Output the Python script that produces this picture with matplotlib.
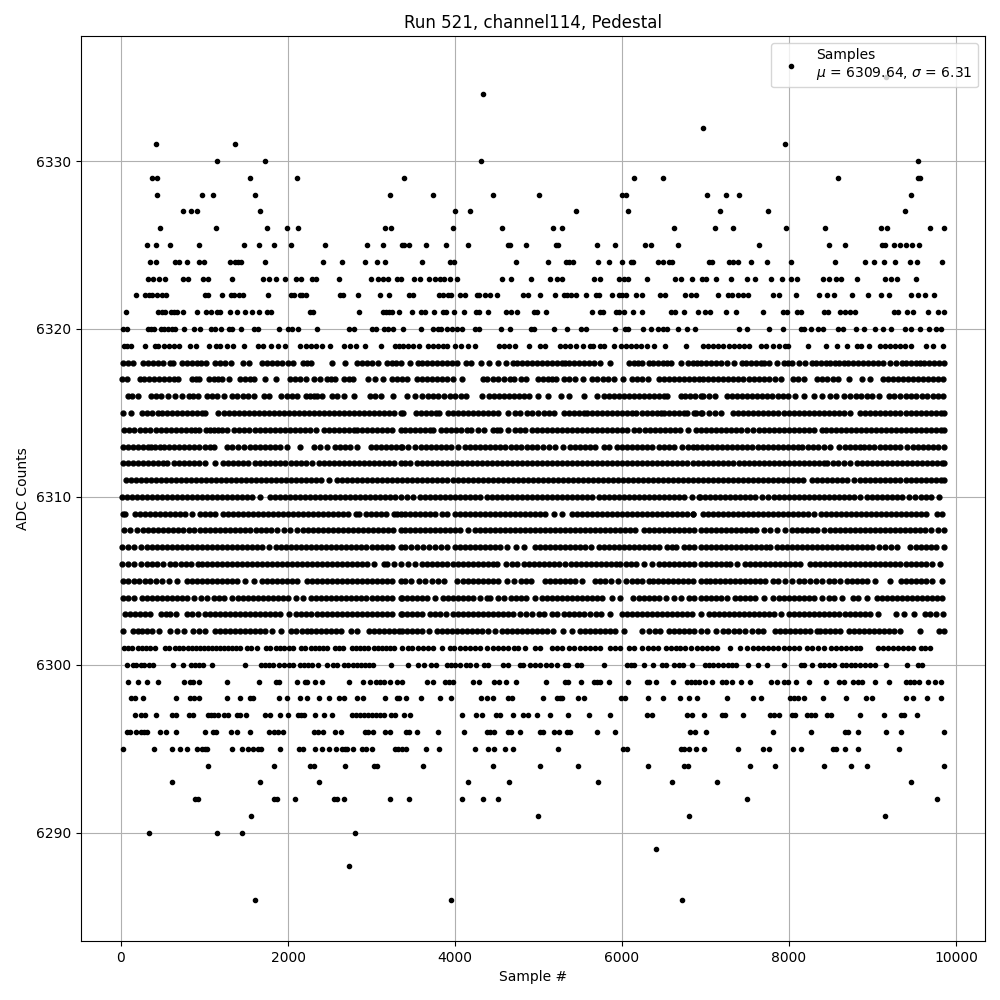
import matplotlib
matplotlib.use("Agg")
import matplotlib.pyplot as plt

# sample numbers, one list per ADC level
s6335 = [9158]
s6334 = [4341]
s6332 = [6974]
s6331 = [414, 1362, 7946]
s6330 = [1146, 1722, 4317, 9542]
s6329 = [374, 426, 1542, 2106, 3393, 6141, 6489, 8582, 9542, 9566]
s6328 = [426, 966, 1098, 1602, 3222, 3741, 4449, 5001, 5997, 6045, 7022, 7250, 7406, 9458]
s6327 = [738, 834, 906, 1662, 4005, 4185, 5445, 6069, 7178, 7754, 9386]
s6326 = [462, 1134, 1746, 1986, 2118, 3162, 3234, 3981, 4557, 5169, 5277, 6621, 7118, 7334, 7958, 8426, 9098, 9170, 9686, 9855]
s6325 = [306, 414, 582, 930, 1470, 1650, 1830, 2034, 2442, 2946, 3138, 3361, 3393, 3453, 3657, 3897, 4161, 4629, 4653, 4845, 5205, 5229, 5697, 5913, 6273, 6345, 6669, 7646, 8474, 8666, 9110, 9146, 9254, 9326, 9398, 9470, 9554]
s6324 = [342, 414, 642, 690, 786, 930, 990, 1302, 1362, 1398, 1434, 1722, 2418, 2646, 2922, 3066, 3162, 3609, 3945, 3993, 4725, 5109, 5325, 5361, 5409, 5709, 5841, 5997, 6105, 6129, 6429, 6489, 6561, 6597, 7046, 7082, 7286, 7334, 7394, 7550, 7742, 8018, 8546, 8906, 9014, 9134, 9266, 9446, 9530, 9830]
s6323 = [318, 378, 450, 522, 738, 798, 978, 1038, 1326, 1698, 1770, 1854, 1970, 2094, 2154, 2286, 2334, 2610, 2994, 3078, 3138, 3198, 3306, 3357, 3513, 3585, 3693, 3765, 3825, 3873, 3945, 4029, 4557, 4665, 4905, 5133, 5217, 5277, 5661, 5733, 5961, 6021, 6069, 6297, 6633, 6705, 6842, 6962, 7010, 7130, 7310, 7502, 7598, 7790, 7910, 8018, 8090, 8402, 8474, 8558, 8618, 8810, 9146, 9218, 9290, 9518]
s6322 = [174, 282, 330, 366, 426, 486, 534, 1002, 1038, 1206, 1314, 1350, 1410, 1458, 1758, 2034, 2070, 2142, 2166, 2214, 2622, 2658, 2838, 3102, 3210, 3453, 3501, 3813, 3861, 3921, 3957, 4065, 4125, 4269, 4293, 4365, 4425, 4497, 4809, 4869, 5013, 5193, 5301, 5337, 5385, 5445, 5565, 5685, 5721, 5877, 5961, 5997, 6045, 6165, 6237, 6453, 6513, 6753, 6830, 6890, 7154, 7274, 7322, 7394, 7454, 7514, 7814, 7886, 8078, 8354, 8450, 8534, 8750, 8942, 9098, 9194, 9458, 9542, 9626, 9734]
s6321 = [54, 438, 486, 522, 594, 630, 666, 738, 906, 1014, 1074, 1146, 1182, 1302, 1386, 1482, 1566, 1650, 1746, 1794, 2262, 2298, 2850, 3138, 3174, 3210, 3246, 3330, 3489, 3597, 3645, 3753, 3861, 3897, 3993, 4113, 4257, 4293, 4401, 4605, 4665, 4737, 4941, 4977, 5085, 5637, 5733, 5769, 5925, 5961, 6021, 6129, 6237, 6585, 6633, 6741, 6914, 6998, 7058, 7250, 7370, 7694, 7922, 7970, 8090, 8138, 8414, 8462, 8606, 8666, 8726, 8786, 9254, 9302, 9410, 9482, 9662, 9782, 9855]
s6320 = [18, 66, 318, 354, 390, 474, 510, 558, 606, 642, 750, 870, 942, 1074, 1122, 1194, 1290, 1326, 1434, 1590, 1638, 1890, 1998, 2046, 2118, 2346, 2730, 2790, 3006, 3054, 3150, 3198, 3258, 3381, 3597, 3741, 3801, 3837, 3909, 3969, 4029, 4089, 4245, 4293, 4545, 4653, 4905, 4941, 5181, 5337, 5505, 5565, 5913, 6033, 6069, 6249, 6345, 6429, 6489, 6537, 6669, 6777, 6878, 7406, 7502, 7766, 7922, 8138, 8174, 8258, 8342, 8402, 8582, 8642, 8798, 8894, 9026, 9122, 9218, 9386, 9458, 9566, 9674, 9758, 9818]
s6319 = [30, 70, 118, 286, 402, 438, 510, 570, 630, 690, 822, 894, 1050, 1134, 1182, 1266, 1338, 1470, 1638, 1698, 1794, 1878, 1962, 2142, 2214, 2274, 2334, 2406, 2502, 2670, 2742, 2814, 2922, 3114, 3282, 3330, 3381, 3441, 3501, 3573, 3681, 3741, 3801, 3861, 3909, 4005, 4077, 4161, 4245, 4521, 4581, 4641, 4713, 4881, 5013, 5073, 5253, 5313, 5373, 5445, 5529, 5613, 5649, 5733, 5781, 5901, 5985, 6045, 6105, 6165, 6225, 6297, 6381, 6513, 6765, 6974, 7034, 7094, 7154, 7214, 7286, 7346, 7406, 7466, 7526, 7670, 7730, 7814, 7886, 7946, 7982, 8222, 8438, 8570, 8690, 8810, 8858, 8954, 9086, 9146, 9206, 9266, 9326, 9386, 9458, 9638, 9722, 9842]
s6318 = [22, 80, 138, 262, 320, 380, 440, 498, 582, 618, 734, 790, 850, 905, 960, 1018, 1122, 1180, 1240, 1318, 1462, 1538, 1694, 1750, 1810, 1870, 1930, 1995, 2058, 2174, 2230, 2278, 2526, 2682, 2830, 2890, 2950, 3010, 3078, 3182, 3240, 3295, 3350, 3461, 3553, 3610, 3670, 3730, 3790, 3850, 3905, 3965, 4021, 4129, 4189, 4317, 4409, 4509, 4609, 4689, 4745, 4800, 4860, 4920, 4980, 5040, 5100, 5160, 5220, 5280, 5321, 5361, 5421, 5480, 5540, 5600, 5669, 5733, 5853, 6081, 6140, 6190, 6241, 6321, 6375, 6430, 6485, 6540, 6589, 6705, 6789, 6845, 6900, 6941, 7000, 7060, 7120, 7180, 7262, 7338, 7434, 7490, 7550, 7610, 7660, 7706, 7766, 7862, 7934, 7985, 8034, 8114, 8186, 8270, 8325, 8385, 8440, 8495, 8550, 8594, 8654, 8710, 8770, 8830, 8890, 8950, 9010, 9070, 9130, 9214, 9278, 9350, 9405, 9460, 9520, 9570, 9614, 9680, 9740, 9800, 9854]
s6317 = [14, 70, 222, 280, 335, 395, 450, 510, 570, 630, 686, 854, 900, 938, 1054, 1110, 1165, 1210, 1290, 1430, 1490, 1545, 1590, 1730, 1854, 2022, 2080, 2145, 2218, 2310, 2378, 2462, 2515, 2566, 2670, 2725, 2778, 2962, 3038, 3142, 3250, 3310, 3361, 3421, 3549, 3605, 3660, 3720, 3780, 3840, 3900, 3981, 4081, 4341, 4389, 4450, 4520, 4581, 4661, 4709, 4789, 4853, 4989, 5050, 5110, 5161, 5213, 5301, 5370, 5441, 5537, 5641, 5700, 5770, 5829, 5901, 6009, 6121, 6180, 6241, 6309, 6441, 6500, 6560, 6620, 6680, 6740, 6800, 6860, 6920, 6974, 7034, 7090, 7150, 7205, 7265, 7325, 7385, 7454, 7526, 7585, 7645, 7705, 7765, 7830, 7902, 8046, 8110, 8182, 8334, 8395, 8460, 8525, 8582, 8714, 8870, 8974, 9122, 9180, 9240, 9300, 9360, 9420, 9480, 9540, 9600, 9660, 9720, 9780, 9840]
s6316 = [78, 135, 198, 358, 415, 480, 562, 650, 730, 810, 865, 922, 1030, 1090, 1150, 1238, 1330, 1395, 1460, 1525, 1590, 1710, 1770, 1918, 1985, 2050, 2106, 2210, 2265, 2310, 2350, 2410, 2530, 2590, 2670, 2790, 2982, 3045, 3110, 3262, 3429, 3525, 3609, 3681, 3740, 3801, 3873, 3935, 4000, 4073, 4137, 4329, 4413, 4470, 4530, 4590, 4650, 4710, 4770, 4830, 4890, 4989, 5113, 5265, 5361, 5541, 5697, 5781, 5840, 5900, 5960, 6020, 6080, 6140, 6200, 6260, 6320, 6380, 6440, 6500, 6541, 6701, 6760, 6820, 6880, 6941, 6974, 7046, 7114, 7254, 7315, 7375, 7435, 7494, 7554, 7615, 7675, 7735, 7794, 7874, 7930, 7985, 8074, 8174, 8302, 8398, 8494, 8560, 8654, 8734, 8800, 8865, 8930, 8994, 9074, 9194, 9262, 9334, 9395, 9455, 9520, 9590, 9654, 9726, 9785, 9842]
s6315 = [18, 122, 250, 310, 370, 438, 495, 555, 615, 675, 735, 795, 855, 910, 970, 1010, 1158, 1230, 1290, 1350, 1410, 1470, 1530, 1590, 1650, 1710, 1770, 1830, 1890, 1950, 2010, 2070, 2130, 2190, 2250, 2310, 2370, 2430, 2490, 2550, 2610, 2670, 2730, 2790, 2850, 2910, 2970, 3030, 3090, 3150, 3210, 3270, 3350, 3373, 3533, 3590, 3650, 3710, 3770, 3813, 3921, 3980, 4040, 4100, 4160, 4220, 4280, 4340, 4400, 4460, 4513, 4629, 4721, 4780, 4860, 4921, 4989, 5061, 5125, 5189, 5301, 5360, 5420, 5480, 5541, 5581, 5640, 5700, 5760, 5820, 5880, 5940, 6000, 6060, 6120, 6173, 6241, 6300, 6360, 6420, 6461, 6501, 6560, 6620, 6680, 6740, 6781, 6881, 6941, 7046, 7114, 7190, 7326, 7385, 7445, 7505, 7565, 7625, 7685, 7745, 7814, 7874, 7935, 7995, 8055, 8115, 8175, 8235, 8295, 8355, 8415, 8475, 8535, 8595, 8655, 8726, 8846, 8910, 8974, 9034, 9095, 9155, 9215, 9275, 9335, 9395, 9455, 9515, 9575, 9635, 9695, 9755, 9815, 9855, 6862, 6954]
s6314 = [30, 90, 150, 222, 285, 350, 422, 480, 540, 600, 660, 720, 780, 840, 890, 930, 1014, 1060, 1110, 1158, 1215, 1270, 1350, 1410, 1470, 1530, 1602, 1660, 1720, 1780, 1840, 1900, 1960, 2020, 2080, 2140, 2200, 2260, 2330, 2430, 2490, 2550, 2610, 2670, 2730, 2790, 2830, 2890, 2950, 3010, 3070, 3130, 3190, 3250, 3350, 3400, 3460, 3520, 3580, 3640, 3700, 3741, 3837, 3895, 3955, 4015, 4075, 4141, 4189, 4270, 4353, 4449, 4500, 4541, 4629, 4721, 4780, 4841, 4921, 4980, 5040, 5100, 5160, 5220, 5280, 5340, 5400, 5460, 5520, 5580, 5640, 5700, 5760, 5820, 5880, 5940, 6000, 6060, 6141, 6201, 6281, 6340, 6400, 6460, 6520, 6580, 6640, 6700, 6789, 6881, 6941, 7000, 7060, 7120, 7180, 7240, 7300, 7360, 7420, 7494, 7574, 7635, 7695, 7755, 7815, 7875, 7935, 7995, 8055, 8115, 8175, 8235, 8295, 8394, 8446, 8505, 8565, 8625, 8685, 8745, 8805, 8865, 8925, 8985, 9045, 9105, 9165, 9225, 9285, 9345, 9405, 9465, 9525, 9585, 9645, 9705, 9765, 9825, 9854]
s6313 = [22, 80, 140, 200, 260, 320, 365, 410, 462, 520, 580, 640, 700, 760, 820, 880, 940, 1000, 1060, 1110, 1270, 1330, 1400, 1470, 1542, 1600, 1660, 1720, 1780, 1840, 1900, 1990, 2138, 2310, 2382, 2462, 2558, 2620, 2680, 2740, 2830, 2990, 3050, 3110, 3170, 3230, 3290, 3350, 3361, 3440, 3521, 3589, 3650, 3710, 3770, 3830, 3890, 3950, 4041, 4121, 4180, 4240, 4300, 4360, 4420, 4480, 4540, 4601, 4673, 4735, 4795, 4860, 4921, 4981, 5050, 5121, 5201, 5290, 5381, 5441, 5500, 5560, 5620, 5680, 5781, 5841, 5941, 6000, 6060, 6120, 6180, 6240, 6301, 6361, 6441, 6500, 6560, 6620, 6721, 6789, 6845, 6901, 6954, 7015, 7075, 7135, 7195, 7255, 7315, 7375, 7435, 7495, 7554, 7626, 7685, 7745, 7805, 7865, 7925, 7985, 8045, 8105, 8154, 8222, 8285, 8350, 8414, 8494, 8594, 8666, 8730, 8790, 8854, 8894, 8955, 9014, 9094, 9155, 9215, 9275, 9335, 9414, 9486, 9545, 9605, 9665, 9725, 9785, 9854]
s6312 = [22, 80, 140, 200, 260, 320, 380, 440, 500, 550, 630, 690, 750, 810, 870, 930, 1010, 1130, 1222, 1280, 1340, 1400, 1460, 1520, 1610, 1670, 1730, 1790, 1850, 1910, 1970, 2030, 2090, 2150, 2210, 2290, 2370, 2430, 2490, 2550, 2610, 2670, 2730, 2790, 2850, 2910, 2970, 3030, 3090, 3150, 3210, 3270, 3350, 3400, 3461, 3541, 3600, 3660, 3720, 3780, 3840, 3900, 3960, 4020, 4080, 4140, 4200, 4260, 4320, 4380, 4440, 4500, 4560, 4620, 4680, 4740, 4800, 4860, 4920, 4980, 5040, 5100, 5160, 5220, 5280, 5340, 5400, 5460, 5520, 5580, 5640, 5700, 5760, 5820, 5880, 5940, 6000, 6060, 6120, 6180, 6240, 6300, 6360, 6420, 6480, 6540, 6600, 6660, 6720, 6781, 6855, 6915, 6975, 7035, 7095, 7155, 7215, 7275, 7335, 7395, 7455, 7515, 7575, 7635, 7695, 7755, 7815, 7875, 7935, 7995, 8055, 8115, 8175, 8235, 8295, 8355, 8414, 8454, 8526, 8590, 8660, 8734, 8814, 8875, 8935, 8995, 9055, 9115, 9175, 9235, 9295, 9355, 9415, 9475, 9535, 9595, 9655, 9715, 9775, 9835, 9855]
s6311 = [62, 120, 180, 240, 300, 360, 420, 480, 540, 600, 660, 720, 780, 840, 900, 960, 1020, 1080, 1140, 1200, 1260, 1320, 1380, 1440, 1500, 1560, 1620, 1680, 1740, 1800, 1860, 1920, 1980, 2040, 2100, 2160, 2220, 2280, 2340, 2400, 2490, 2590, 2650, 2710, 2770, 2830, 2890, 2950, 3010, 3070, 3130, 3190, 3250, 3310, 3370, 3430, 3490, 3550, 3610, 3670, 3730, 3790, 3850, 3910, 3970, 4030, 4090, 4150, 4210, 4270, 4330, 4390, 4450, 4510, 4570, 4630, 4690, 4750, 4810, 4870, 4930, 4990, 5050, 5110, 5170, 5230, 5290, 5350, 5410, 5470, 5530, 5590, 5650, 5710, 5770, 5830, 5890, 5950, 6010, 6070, 6130, 6190, 6250, 6310, 6370, 6430, 6490, 6550, 6610, 6670, 6730, 6790, 6850, 6910, 6970, 7030, 7090, 7150, 7210, 7270, 7330, 7390, 7450, 7510, 7570, 7630, 7690, 7750, 7810, 7870, 7930, 7990, 8050, 8110, 8170, 8274, 8334, 8395, 8455, 8515, 8575, 8635, 8695, 8774, 8854, 8915, 8975, 9035, 9095, 9155, 9215, 9275, 9335, 9395, 9455, 9515, 9575, 9635, 9695, 9755, 9815, 9854]
s6310 = [13, 70, 130, 190, 250, 310, 370, 430, 490, 550, 610, 670, 730, 790, 850, 910, 970, 1030, 1090, 1150, 1210, 1270, 1330, 1390, 1450, 1510, 1570, 1670, 1782, 1840, 1900, 1960, 2020, 2080, 2140, 2200, 2260, 2320, 2380, 2440, 2500, 2560, 2620, 2680, 2740, 2800, 2860, 2920, 2980, 3040, 3100, 3160, 3220, 3280, 3350, 3420, 3493, 3581, 3640, 3700, 3760, 3820, 3880, 3940, 4000, 4060, 4120, 4180, 4240, 4301, 4381, 4440, 4500, 4560, 4620, 4680, 4741, 4801, 4860, 4920, 4980, 5040, 5100, 5160, 5220, 5280, 5340, 5400, 5460, 5520, 5580, 5641, 5721, 5780, 5840, 5900, 5960, 6020, 6080, 6140, 6200, 6260, 6320, 6380, 6440, 6500, 6560, 6620, 6680, 6740, 6841, 6921, 6934, 6995, 7055, 7115, 7175, 7235, 7295, 7355, 7415, 7475, 7535, 7595, 7674, 7754, 7815, 7875, 7935, 7995, 8055, 8115, 8175, 8235, 8295, 8355, 8415, 8475, 8535, 8595, 8655, 8715, 8775, 8854, 8934, 8995, 9055, 9115, 9175, 9235, 9295, 9355, 9434, 9514, 9575, 9635, 9695, 9794]
s6309 = [22, 50, 170, 230, 290, 350, 410, 470, 530, 590, 650, 710, 770, 850, 950, 1010, 1070, 1130, 1222, 1280, 1340, 1400, 1460, 1520, 1580, 1640, 1700, 1760, 1820, 1880, 1940, 2000, 2060, 2120, 2180, 2240, 2300, 2360, 2420, 2480, 2540, 2600, 2660, 2720, 2810, 2850, 2930, 2990, 3050, 3110, 3170, 3270, 3310, 3350, 3400, 3460, 3520, 3580, 3640, 3700, 3760, 3841, 3909, 4001, 4060, 4120, 4180, 4240, 4300, 4360, 4420, 4480, 4540, 4600, 4660, 4720, 4780, 4840, 4900, 4960, 5020, 5080, 5181, 5281, 5401, 5460, 5520, 5580, 5640, 5700, 5760, 5820, 5880, 5940, 6000, 6060, 6120, 6180, 6240, 6300, 6360, 6420, 6480, 6540, 6600, 6660, 6720, 6781, 6846, 6853, 6966, 7025, 7085, 7145, 7205, 7265, 7325, 7385, 7445, 7505, 7565, 7625, 7685, 7745, 7805, 7865, 7925, 7985, 8045, 8105, 8165, 8225, 8294, 8382, 8440, 8500, 8560, 8620, 8680, 8740, 8800, 8860, 8920, 8980, 9040, 9100, 9160, 9220, 9280, 9340, 9400, 9460, 9520, 9580, 9646, 9774, 9834]
s6308 = [30, 110, 190, 262, 320, 380, 440, 500, 560, 620, 680, 740, 810, 878, 950, 1010, 1070, 1130, 1190, 1250, 1310, 1370, 1430, 1490, 1550, 1622, 1680, 1740, 1800, 1870, 1950, 2025, 2102, 2182, 2240, 2300, 2360, 2420, 2480, 2540, 2600, 2660, 2720, 2780, 2840, 2900, 2960, 3020, 3080, 3140, 3200, 3260, 3350, 3400, 3460, 3520, 3580, 3640, 3700, 3760, 3820, 3880, 3940, 4000, 4060, 4161, 4241, 4300, 4360, 4420, 4480, 4540, 4600, 4660, 4720, 4780, 4840, 4900, 4961, 5021, 5080, 5140, 5200, 5260, 5320, 5380, 5440, 5500, 5560, 5620, 5680, 5740, 5800, 5860, 5920, 5980, 6040, 6100, 6161, 6261, 6320, 6380, 6440, 6500, 6560, 6620, 6680, 6740, 6800, 6860, 6941, 7000, 7060, 7120, 7180, 7240, 7300, 7360, 7420, 7480, 7540, 7600, 7702, 7774, 7860, 7954, 8034, 8095, 8155, 8215, 8275, 8335, 8414, 8486, 8545, 8605, 8665, 8725, 8785, 8845, 8905, 8965, 9025, 9085, 9145, 9205, 9265, 9325, 9385, 9445, 9505, 9565, 9634, 9702, 9780, 9854]
s6307 = [13, 85, 160, 240, 310, 370, 430, 490, 550, 610, 670, 730, 790, 850, 910, 970, 1030, 1090, 1150, 1210, 1270, 1330, 1390, 1450, 1510, 1570, 1630, 1690, 1770, 1862, 1920, 1980, 2040, 2100, 2160, 2220, 2280, 2340, 2400, 2460, 2520, 2580, 2640, 2700, 2760, 2820, 2880, 2940, 3000, 3060, 3120, 3180, 3240, 3350, 3400, 3470, 3549, 3621, 3690, 3761, 3829, 3901, 4001, 4060, 4120, 4180, 4240, 4300, 4360, 4420, 4480, 4541, 4621, 4725, 4829, 4961, 5020, 5080, 5140, 5200, 5260, 5320, 5380, 5440, 5500, 5560, 5629, 5721, 5780, 5840, 5900, 5960, 6020, 6080, 6140, 6200, 6260, 6320, 6380, 6440, 6541, 6601, 6641, 6741, 6800, 6860, 6941, 7000, 7060, 7120, 7180, 7240, 7300, 7360, 7420, 7480, 7540, 7600, 7660, 7720, 7774, 7854, 7915, 7975, 8035, 8095, 8155, 8215, 8275, 8335, 8395, 8455, 8515, 8575, 8635, 8695, 8755, 8815, 8875, 8935, 8995, 9074, 9154, 9225, 9294, 9454, 9515, 9575, 9635, 9695, 9755, 9854]
s6306 = [13, 85, 160, 240, 310, 370, 435, 498, 590, 650, 720, 780, 838, 922, 970, 1030, 1090, 1150, 1210, 1270, 1330, 1390, 1450, 1510, 1570, 1630, 1690, 1750, 1810, 1870, 1930, 1990, 2050, 2110, 2170, 2230, 2290, 2350, 2410, 2470, 2530, 2590, 2650, 2710, 2770, 2830, 2890, 2950, 3030, 3150, 3190, 3270, 3350, 3441, 3520, 3601, 3661, 3720, 3780, 3840, 3901, 3973, 4030, 4090, 4150, 4210, 4270, 4330, 4390, 4450, 4501, 4613, 4680, 4741, 4829, 4890, 4950, 5010, 5070, 5130, 5190, 5241, 5321, 5389, 5450, 5510, 5570, 5630, 5690, 5750, 5810, 5870, 5930, 5981, 6049, 6110, 6170, 6261, 6361, 6441, 6500, 6560, 6620, 6680, 6740, 6800, 6860, 6941, 7000, 7060, 7120, 7180, 7240, 7294, 7374, 7474, 7535, 7595, 7655, 7715, 7775, 7835, 7895, 7955, 8015, 8075, 8134, 8254, 8315, 8375, 8435, 8495, 8555, 8615, 8675, 8735, 8795, 8855, 8915, 8975, 9035, 9095, 9155, 9215, 9275, 9335, 9395, 9455, 9515, 9575, 9635, 9714, 9814]
s6305 = [22, 85, 150, 215, 290, 350, 422, 495, 570, 670, 790, 850, 910, 970, 1030, 1090, 1150, 1210, 1270, 1330, 1390, 1490, 1598, 1690, 1750, 1810, 1870, 1930, 1990, 2050, 2102, 2230, 2290, 2350, 2410, 2470, 2530, 2590, 2650, 2710, 2770, 2830, 2890, 2950, 3010, 3070, 3130, 3190, 3250, 3350, 3400, 3470, 3573, 3641, 3720, 3801, 3873, 4029, 4101, 4160, 4220, 4280, 4340, 4400, 4460, 4520, 4621, 4701, 4789, 4850, 4913, 5073, 5135, 5195, 5255, 5315, 5375, 5435, 5521, 5681, 5740, 5801, 5865, 5949, 6045, 6121, 6180, 6240, 6321, 6373, 6435, 6495, 6555, 6615, 6675, 6735, 6795, 6855, 6941, 7000, 7054, 7114, 7175, 7235, 7295, 7355, 7415, 7475, 7535, 7595, 7655, 7715, 7814, 7874, 7954, 8030, 8114, 8174, 8250, 8320, 8400, 8474, 8534, 8610, 8694, 8754, 8815, 8875, 8935, 9034, 9214, 9342, 9405, 9465, 9525, 9585, 9645, 9714, 9838]
s6304 = [22, 85, 150, 250, 310, 370, 430, 490, 550, 610, 670, 730, 790, 870, 958, 1030, 1110, 1170, 1230, 1330, 1398, 1460, 1520, 1580, 1640, 1700, 1760, 1820, 1880, 1940, 2000, 2090, 2182, 2278, 2340, 2400, 2460, 2520, 2580, 2640, 2700, 2760, 2820, 2880, 2940, 3000, 3060, 3120, 3180, 3240, 3350, 3361, 3420, 3480, 3540, 3600, 3660, 3761, 3861, 3920, 3980, 4040, 4100, 4160, 4220, 4301, 4381, 4421, 4509, 4581, 4669, 4730, 4790, 4850, 4961, 5041, 5100, 5160, 5220, 5280, 5340, 5400, 5460, 5520, 5580, 5640, 5700, 5760, 5881, 5973, 6129, 6201, 6260, 6320, 6380, 6441, 6521, 6621, 6709, 6801, 6860, 6941, 7000, 7060, 7120, 7180, 7254, 7354, 7415, 7475, 7535, 7595, 7702, 7814, 7875, 7935, 7995, 8055, 8115, 8175, 8235, 8295, 8394, 8474, 8534, 8634, 8766, 8830, 8934, 9054, 9115, 9175, 9235, 9295, 9355, 9415, 9475, 9535, 9595, 9655, 9715, 9775, 9834]
s6303 = [50, 110, 170, 230, 290, 350, 478, 535, 590, 654, 790, 850, 918, 1010, 1070, 1130, 1190, 1250, 1310, 1370, 1430, 1490, 1550, 1610, 1670, 1730, 1790, 1850, 1910, 2010, 2090, 2150, 2210, 2270, 2350, 2410, 2470, 2530, 2590, 2650, 2710, 2770, 2830, 2890, 2950, 3010, 3070, 3130, 3190, 3250, 3350, 3361, 3420, 3480, 3540, 3601, 3701, 3760, 3820, 3893, 3973, 4030, 4090, 4150, 4210, 4270, 4330, 4390, 4450, 4510, 4570, 4630, 4690, 4781, 4853, 4917, 5001, 5060, 5161, 5221, 5309, 5370, 5430, 5490, 5550, 5621, 5693, 5750, 5853, 6001, 6060, 6120, 6180, 6240, 6300, 6360, 6420, 6480, 6540, 6600, 6660, 6720, 6780, 6840, 6941, 7046, 7105, 7165, 7225, 7285, 7345, 7405, 7465, 7525, 7585, 7645, 7705, 7765, 7825, 7902, 7994, 8055, 8115, 8175, 8235, 8295, 8355, 8415, 8475, 8535, 8595, 8674, 8726, 8785, 8845, 8905, 8965, 9062, 9278, 9374, 9494, 9626, 9690, 9760, 9842]
s6302 = [18, 142, 200, 255, 310, 370, 450, 590, 665, 750, 862, 930, 1010, 1130, 1190, 1250, 1310, 1370, 1430, 1490, 1550, 1610, 1670, 1730, 1810, 1914, 2030, 2100, 2170, 2222, 2280, 2340, 2400, 2460, 2520, 2580, 2640, 2750, 2822, 2970, 3030, 3090, 3150, 3210, 3270, 3330, 3361, 3420, 3480, 3540, 3600, 3693, 3781, 3840, 3900, 3960, 4020, 4080, 4140, 4200, 4260, 4320, 4401, 4481, 4561, 4620, 4680, 4740, 4800, 4860, 4920, 4980, 5040, 5100, 5173, 5293, 5401, 5493, 5561, 5620, 5680, 5740, 5800, 5860, 5920, 6021, 6241, 6321, 6401, 6453, 6561, 6620, 6680, 6740, 6800, 6860, 6941, 7014, 7126, 7214, 7275, 7340, 7405, 7474, 7554, 7625, 7686, 7834, 7895, 7955, 8015, 8075, 8135, 8195, 8255, 8334, 8374, 8434, 8495, 8555, 8615, 8714, 8774, 8835, 8895, 8955, 9015, 9075, 9135, 9195, 9255, 9334, 9566, 9794, 9854]
s6301 = [30, 78, 126, 198, 246, 294, 342, 402, 522, 570, 642, 690, 738, 798, 846, 894, 942, 990, 1038, 1086, 1134, 1182, 1230, 1278, 1326, 1374, 1422, 1506, 1554, 1626, 1734, 1782, 1854, 1902, 1950, 2010, 2058, 2154, 2202, 2274, 2322, 2370, 2418, 2466, 2562, 2610, 2658, 2766, 2814, 2862, 2910, 2958, 3030, 3078, 3126, 3174, 3222, 3270, 3369, 3441, 3489, 3561, 3621, 3681, 3741, 3849, 3945, 3993, 4065, 4125, 4185, 4245, 4305, 4389, 4449, 4509, 4569, 4629, 4701, 4749, 4833, 4953, 5013, 5157, 5217, 5277, 5361, 5421, 5493, 5553, 5613, 5673, 5733, 5853, 5913, 5973, 6081, 6141, 6237, 6309, 6369, 6429, 6525, 6585, 6645, 6693, 6753, 6830, 6894, 6954, 7014, 7074, 7134, 7298, 7418, 7502, 7574, 7634, 7694, 7754, 7814, 7874, 7934, 7994, 8054, 8114, 8210, 8270, 8342, 8414, 8498, 8558, 8618, 8678, 8738, 8798, 8846, 9062, 9122, 9182, 9242, 9302, 9362, 9422, 9482, 9578, 9626, 9686]
s6300 = [66, 138, 174, 234, 270, 330, 378, 618, 738, 834, 882, 930, 978, 1086, 1482, 1674, 1722, 1770, 1818, 1890, 1950, 2010, 2058, 2142, 2190, 2238, 2286, 2358, 2466, 2538, 2586, 2670, 2718, 2778, 2826, 2874, 2922, 2970, 3018, 3234, 3441, 3561, 3633, 3717, 3777, 3909, 3957, 4005, 4065, 4137, 4185, 4257, 4353, 4401, 4569, 4629, 4773, 4809, 4893, 4953, 5013, 5085, 5145, 5217, 5313, 5349, 5457, 5505, 5781, 6057, 6105, 6141, 6261, 6369, 6477, 6525, 6621, 6681, 6729, 6842, 6998, 7046, 7094, 7154, 7214, 7274, 7322, 7370, 7514, 7634, 7742, 7934, 8138, 8174, 8270, 8366, 8414, 8474, 8534, 8630, 8678, 8738, 8786, 8846, 8906, 8966, 9026, 9158, 9410, 9542, 9590]
s6299 = [78, 198, 306, 438, 750, 822, 858, 930, 1266, 1650, 1854, 1890, 2106, 2202, 2226, 2322, 2406, 2730, 2898, 2982, 3054, 3102, 3150, 3222, 3306, 3369, 3669, 3741, 3885, 3933, 3981, 4221, 4293, 4461, 4521, 4605, 4725, 5085, 5313, 5349, 5505, 5661, 5697, 5733, 5841, 6069, 6297, 6321, 6405, 6609, 6777, 6825, 6873, 6921, 6998, 7082, 7202, 7250, 7322, 7430, 7538, 7790, 7862, 7934, 7982, 8078, 8234, 8438, 8594, 8654, 8762, 8822, 8870, 9026, 9194, 9398, 9446, 9494, 9554, 9662, 9746, 9818]
s6298 = [114, 162, 258, 654, 822, 870, 930, 1270, 1422, 1542, 1578, 1890, 1986, 2142, 2226, 2370, 2490, 2610, 2670, 2826, 2898, 3162, 3306, 3330, 3417, 3597, 3825, 3957, 4317, 4389, 4449, 4629, 4677, 5049, 5217, 5253, 5277, 5469, 5541, 5985, 6033, 6309, 6489, 6693, 6801, 6902, 7262, 7574, 7670, 8006, 8054, 8102, 8174, 8402, 8678, 8918, 8990, 9398, 9482, 9650, 9818]
s6297 = [162, 234, 282, 414, 606, 654, 810, 858, 1038, 1074, 1110, 1158, 1230, 1278, 1386, 1422, 1494, 1722, 1782, 1902, 1998, 2118, 2154, 2190, 2322, 2430, 2526, 2766, 2814, 2862, 2910, 2958, 3006, 3054, 3102, 3150, 3234, 3282, 3393, 3465, 4089, 4257, 4329, 4485, 4533, 4689, 4809, 4869, 4977, 5133, 5349, 5601, 5853, 6297, 6357, 6777, 6837, 6986, 7202, 7238, 7454, 7778, 7826, 7886, 8030, 8066, 8210, 8258, 8306, 8450, 8498, 8846, 9134, 9338, 9374, 9530]
s6296 = [66, 102, 174, 234, 270, 306, 462, 534, 654, 1002, 1098, 1134, 1314, 1386, 1542, 1770, 1830, 1878, 1938, 2310, 2358, 2418, 2562, 2634, 2922, 2958, 3018, 3162, 3222, 3417, 3453, 3541, 3801, 4113, 4389, 4425, 4461, 4629, 4665, 4773, 5013, 5049, 5181, 5241, 5337, 5373, 5697, 5913, 6813, 6873, 7010, 7814, 8258, 8666, 8702, 8822, 9158, 9338, 9854]
s6295 = [18, 390, 606, 702, 786, 906, 966, 1002, 1026, 1326, 1446, 1518, 1578, 1638, 1674, 1902, 2130, 2178, 2322, 2406, 2490, 2574, 2646, 2682, 2706, 2778, 2886, 2934, 3006, 3282, 3318, 3361, 3409, 3657, 3813, 4245, 4401, 4461, 4593, 4689, 5229, 6009, 6057, 6705, 6741, 6801, 6885, 6986, 7394, 7694, 7766, 8042, 8138, 8522, 8558, 8666, 8822, 9314]
s6294 = [1038, 1830, 2262, 2310, 2682, 3030, 3066, 3621, 4449, 5013, 5469, 6309, 6741, 6789, 7538, 7838, 8414, 8738, 8930, 9855]
s6293 = [606, 1662, 2370, 4161, 4641, 5709, 6597, 7142, 9458]
s6292 = [882, 918, 1830, 1866, 2082, 2550, 2586, 2670, 3222, 3453, 4089, 4341, 4509, 7502, 9770]
s6291 = [1554, 4989, 6801, 9146]
s6290 = [330, 1146, 1446, 2802]
s6289 = [6405]
s6288 = [2730]
s6286 = [1602, 3957, 6717]

sparse = {6335: s6335, 6334: s6334, 6332: s6332, 6331: s6331, 6330: s6330, 6329: s6329,
          6328: s6328, 6327: s6327, 6326: s6326, 6325: s6325, 6324: s6324, 6323: s6323,
          6322: s6322, 6321: s6321, 6320: s6320, 6319: s6319, 6301: s6301, 6300: s6300,
          6299: s6299, 6298: s6298, 6297: s6297, 6296: s6296, 6295: s6295, 6294: s6294,
          6293: s6293, 6292: s6292, 6291: s6291, 6290: s6290, 6289: s6289, 6288: s6288,
          6286: s6286}
dense = {6318: s6318, 6317: s6317, 6316: s6316, 6315: s6315, 6314: s6314, 6313: s6313,
         6312: s6312, 6311: s6311, 6310: s6310, 6309: s6309, 6308: s6308, 6307: s6307,
         6306: s6306, 6305: s6305, 6304: s6304, 6303: s6303, 6302: s6302}


def flatten(levels):
    xs = []
    ys = []
    for level in levels:
        for s in levels[level]:
            xs.append(s)
            ys.append(level)
    return xs, ys


fig = plt.figure(figsize=(10, 10))
plt.subplots_adjust(left=0.081, right=0.985, top=0.964, bottom=0.059)
x1, y1 = flatten(sparse)
x2, y2 = flatten(dense)
plt.plot(x1, y1, 'k.', label='Samples\n$\\mu$ = 6309.64, $\\sigma$ = 6.31')
# fewer points were read in the packed rows, slightly bigger dots keep them closed
plt.plot(x2, y2, 'k.', markersize=7)
plt.grid()
plt.legend(loc='upper right')
plt.title('Run 521, channel114, Pedestal')
plt.xlabel('Sample #')
plt.ylabel('ADC Counts')
plt.xlim(-479, 10347)
plt.ylim(6283.55, 6337.45)
plt.savefig('out.png', dpi=100)
